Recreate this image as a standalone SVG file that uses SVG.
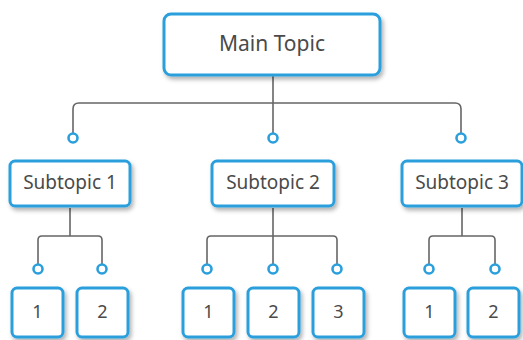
<svg xmlns="http://www.w3.org/2000/svg" width="523" height="340" viewBox="0 0 523 340">
  <defs>
    <filter id="shadow" x="-20%" y="-20%" width="150%" height="160%">
      <feDropShadow dx="2" dy="3" stdDeviation="2" flood-color="#000" flood-opacity="0.3"/>
    </filter>
  </defs>
  <style>
    .box { fill: #ffffff; stroke: #2b9fdc; stroke-width: 3; filter: url(#shadow); }
    .lbl { font-family: "Noto Sans", "Liberation Sans", sans-serif; font-weight: 400; fill: #4a4a4a; text-anchor: middle; dominant-baseline: central; }
    .main { font-size: 21px; }
    .sub { font-size: 19px; }
    .num { font-size: 18px; }
    .wire { fill: none; stroke: #666666; stroke-width: 1.6; }
    .dot { fill: #ffffff; stroke: #2b9fdc; stroke-width: 2.6; }
  </style>

  <!-- connectors -->
  <g id="connectors">
    <path class="wire" d="M273 76 V103 M79 103 H455 M73 134 V109 Q73 103 79 103 M455 103 Q461 103 461 109 V134 M273 103 V134"/>
    <path class="wire" d="M70 208 V236 M42 236 H98 M38 265 V240 Q38 236 42 236 M98 236 Q102 236 102 240 V265"/>
    <path class="wire" d="M273 208 V265 M211 236 H333 M207 265 V240 Q207 236 211 236 M333 236 Q337 236 337 240 V265"/>
    <path class="wire" d="M462 208 V236 M433 236 H491 M429 265 V240 Q429 236 433 236 M491 236 Q495 236 495 240 V265"/>
    <circle class="dot" cx="73" cy="138" r="4.5"/>
    <circle class="dot" cx="273" cy="138" r="4.5"/>
    <circle class="dot" cx="461" cy="138" r="4.5"/>
    <circle class="dot" cx="38" cy="269" r="4.5"/>
    <circle class="dot" cx="102" cy="269" r="4.5"/>
    <circle class="dot" cx="207" cy="269" r="4.5"/>
    <circle class="dot" cx="273" cy="269" r="4.5"/>
    <circle class="dot" cx="337" cy="269" r="4.5"/>
    <circle class="dot" cx="429" cy="269" r="4.5"/>
    <circle class="dot" cx="495" cy="269" r="4.5"/>
  </g>

  <g id="main-topic">
    <rect class="box" x="164" y="14" width="216" height="61" rx="7"/>
    <text class="lbl main" x="272" y="43">Main Topic</text>
  </g>

  <g id="subtopic-1">
    <rect class="box" x="10" y="161" width="120" height="45" rx="5"/>
    <text class="lbl sub" x="70" y="182">Subtopic 1</text>
  </g>
  <g id="subtopic-2">
    <rect class="box" x="212" y="161" width="122" height="45" rx="5"/>
    <text class="lbl sub" x="273" y="182">Subtopic 2</text>
  </g>
  <g id="subtopic-3">
    <rect class="box" x="402" y="161" width="120" height="45" rx="5"/>
    <text class="lbl sub" x="462" y="182">Subtopic 3</text>
  </g>

  <g id="s1-item-1">
    <rect class="box" x="12" y="288" width="51" height="49" rx="5"/>
    <text class="lbl num" x="37.5" y="311">1</text>
  </g>
  <g id="s1-item-2">
    <rect class="box" x="77" y="288" width="51" height="49" rx="5"/>
    <text class="lbl num" x="102.5" y="311">2</text>
  </g>
  <g id="s2-item-1">
    <rect class="box" x="183" y="288" width="51" height="49" rx="5"/>
    <text class="lbl num" x="208.5" y="311">1</text>
  </g>
  <g id="s2-item-2">
    <rect class="box" x="248" y="288" width="51" height="49" rx="5"/>
    <text class="lbl num" x="273.5" y="311">2</text>
  </g>
  <g id="s2-item-3">
    <rect class="box" x="313" y="288" width="51" height="49" rx="5"/>
    <text class="lbl num" x="338.5" y="311">3</text>
  </g>
  <g id="s3-item-1">
    <rect class="box" x="404" y="288" width="51" height="49" rx="5"/>
    <text class="lbl num" x="429.5" y="311">1</text>
  </g>
  <g id="s3-item-2">
    <rect class="box" x="468" y="288" width="51" height="49" rx="5"/>
    <text class="lbl num" x="493.5" y="311">2</text>
  </g>
</svg>
